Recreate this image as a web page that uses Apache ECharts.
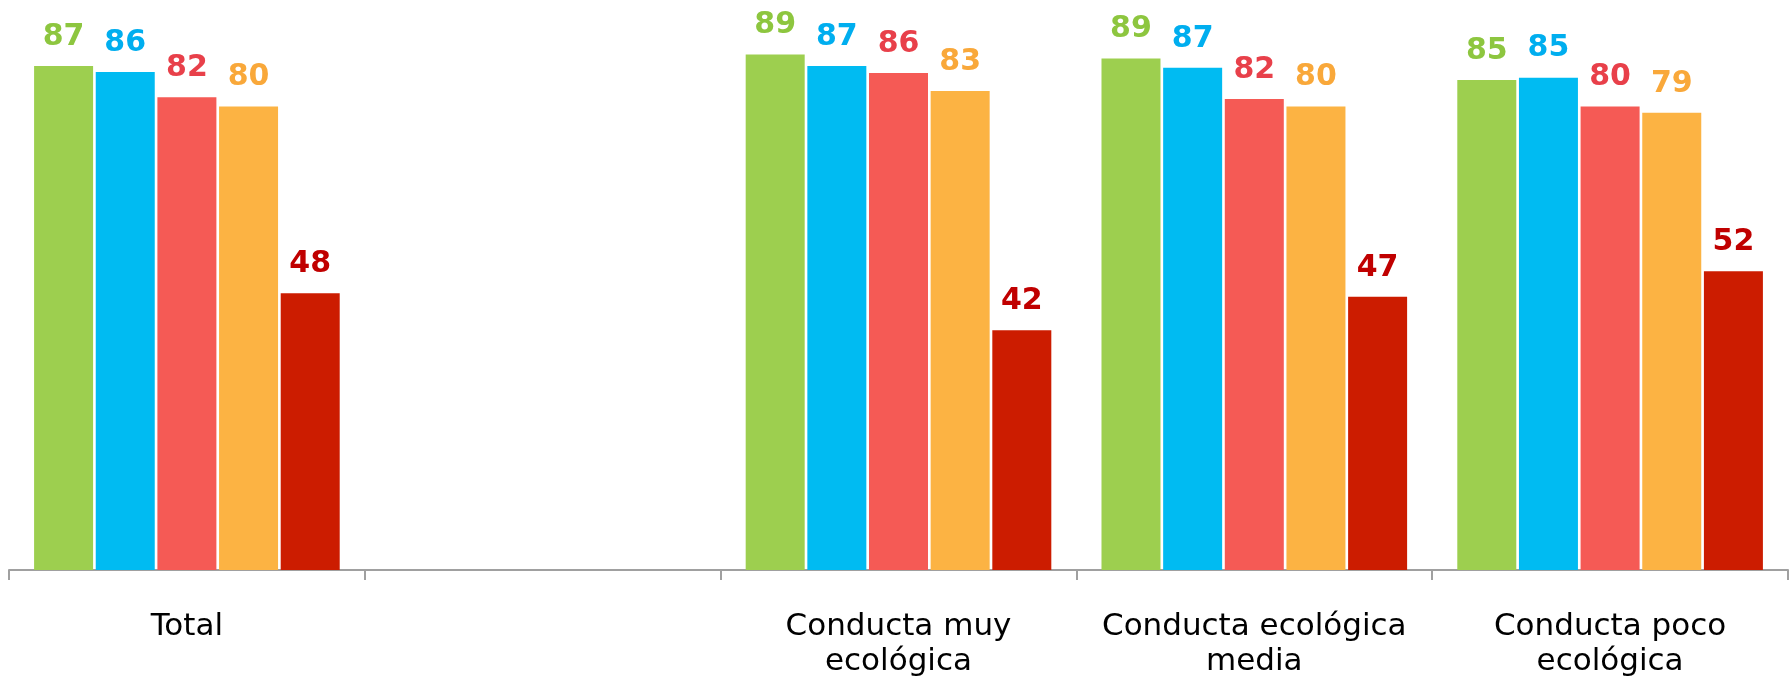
<!DOCTYPE html>
<html>
<head>
<meta charset="utf-8">
<script src="https://cdn.jsdelivr.net/npm/echarts@6/dist/echarts.min.js"></script>
<style>
html,body{margin:0;padding:0;background:#fff;}
#c{width:1792px;height:679px;}
</style>
</head>
<body>
<div id="c"></div>
<script>
const categories = ['Total', '', 'Conducta muy\necológica', 'Conducta ecológica\nmedia', 'Conducta poco\necológica'];
const serie1 = [87.4, '-', 89.4, 88.7, 85.0];
const serie2 = [86.4, '-', 87.4, 87.1, 85.4];
const serie3 = [82.0, '-', 86.2, 81.7, 80.4];
const serie4 = [80.4, '-', 83.1, 80.4, 79.3];
const serie5 = [48.0, '-', 41.6, 47.4, 51.8];

const barColors = ['#9dcf4f', '#00bbf2', '#f55a55', '#fcb343', '#cc1c00'];
const labelColors = ['#8dc63f', '#00aeef', '#e8404a', '#f9a83a', '#c00000'];
const seriesData = [serie1, serie2, serie3, serie4, serie5];
const seriesNames = ['Serie 1', 'Serie 2', 'Serie 3', 'Serie 4', 'Serie 5'];

const chart = echarts.init(document.getElementById('c'));
chart.setOption({
  animation: false,
  grid: { left: 9, right: 4, top: 5, bottom: 107 },
  xAxis: {
    type: 'category',
    data: categories,
    axisLine: { lineStyle: { color: '#a0a0a0', width: 2 } },
    axisTick: { show: true, length: 10, lineStyle: { color: '#a0a0a0', width: 2 } },
    axisLabel: {
      color: '#000',
      fontFamily: 'DejaVu Sans',
      fontSize: 31,
      lineHeight: 35,
      margin: 39,
      interval: 0
    }
  },
  yAxis: {
    type: 'value',
    min: 0,
    max: 98,
    show: false,
    splitLine: { show: false }
  },
  series: seriesData.map((d, i) => ({
    name: seriesNames[i],
    type: 'bar',
    data: d,
    barWidth: 59,
    barGap: '4.5%',
    itemStyle: { color: barColors[i] },
    label: {
      show: true,
      position: 'top',
      distance: 14,
      color: labelColors[i],
      fontFamily: 'DejaVu Sans',
      fontWeight: 'bold',
      fontSize: 30,
      formatter: p => Math.round(p.value)
    }
  }))
});
</script>
</body>
</html>
